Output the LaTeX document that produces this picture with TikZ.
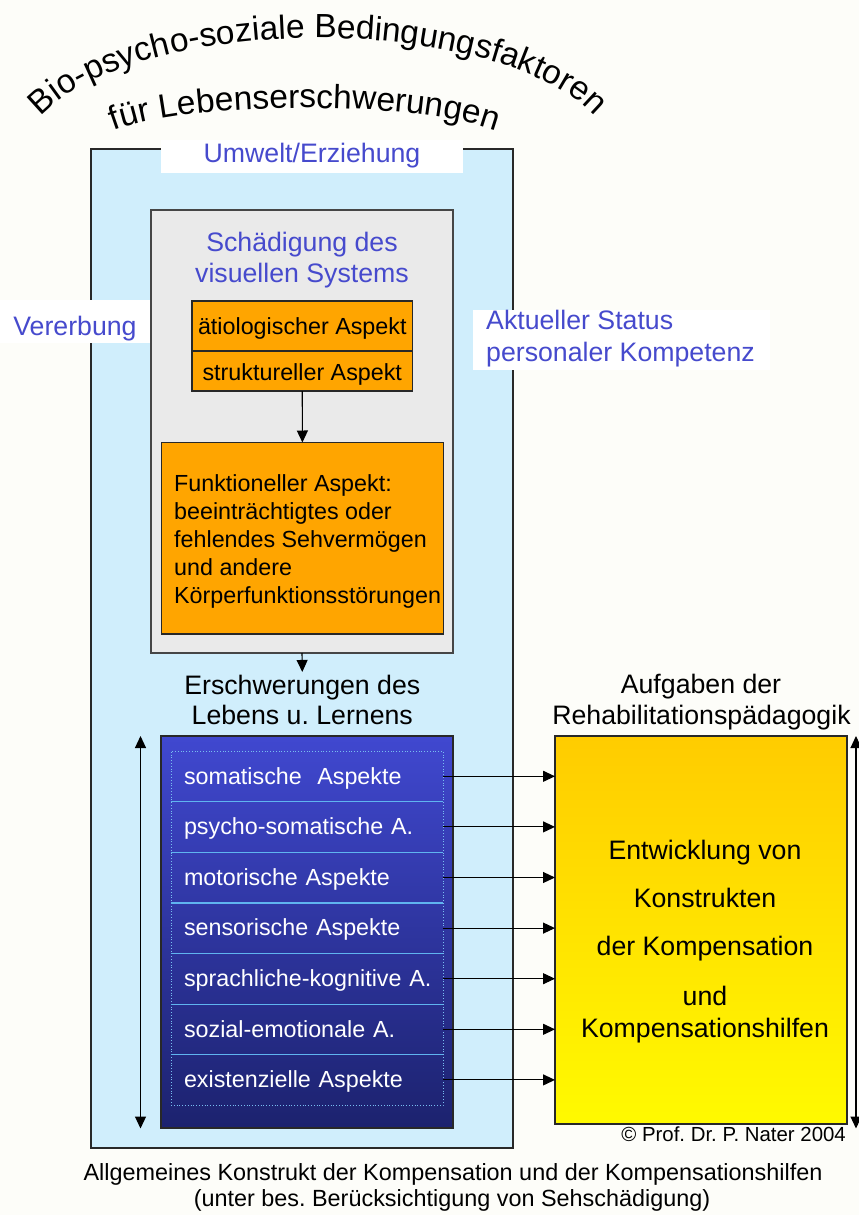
\documentclass[tikz,border=0pt]{standalone}
\usepackage{fontspec}
\setmainfont{Liberation Sans}
\usetikzlibrary{fit,arrows.meta,decorations.text}
\definecolor{bgc}{RGB}{253,253,249}
\definecolor{lblue}{RGB}{208,238,252}
\definecolor{greyc}{RGB}{234,234,234}
\definecolor{orangec}{RGB}{255,165,0}
\definecolor{bluetext}{RGB}{70,74,205}
\definecolor{btop}{RGB}{64,72,208}
\definecolor{bbot}{RGB}{28,34,110}
\definecolor{ytop}{RGB}{255,204,0}
\definecolor{ybot}{RGB}{255,250,0}
\definecolor{sepc}{RGB}{96,180,240}
\definecolor{dotc}{RGB}{120,190,240}
\definecolor{edge}{RGB}{40,40,40}
\newcommand\fsz[2]{\fontsize{#1}{#2}\selectfont}
\begin{document}
\frenchspacing
\begin{tikzpicture}[x=1pt,y=-1pt,
  frame/.style={draw=edge, line width=1.1pt, inner sep=0pt, outer sep=0pt},
  patch/.style={fill=white, inner sep=0pt, outer sep=0pt},
  lbl/.style={inner sep=0pt, font={\fsz{26.7}{32}}},
  bluelbl/.style={lbl, text=bluetext},
  small/.style={inner sep=0pt, font={\fsz{23.3}{28}}},
  arr/.style={draw=black, line width=1.1pt, -{Triangle[length=12pt,width=11pt]}},
  darr/.style={draw=black, line width=1.1pt, {Triangle[length=12pt,width=11pt]}-{Triangle[length=12pt,width=11pt]}},
  row/.style={inner xsep=13pt, inner ysep=0pt, text width=246pt, minimum height=50.6pt, align=left, text=white, font={\fsz{23.3}{28}}, text height=18pt, text depth=2.6pt},
  sepline/.style={draw=sepc, line width=1.2pt},
]
\fill[bgc] (0,0) rectangle (859,1215);
\useasboundingbox (0,0) rectangle (859,1215);

% title
\path[decorate, decoration={text along path, text align=center,
  text={|\fsz{33.5}{33.5}|Bio-psycho-soziale Bedingungsfaktoren}}]
  (318,158) ++(198.5:295 and 120) arc[start angle=198.5, end angle=341.5, x radius=295, y radius=120];
\path[decorate, decoration={text along path, text align=center,
  text={|\fsz{33.5}{33.5}|für Lebenserschwerungen}}]
  (305,150) ++(203:215 and 42) arc[start angle=203, end angle=337, x radius=215, y radius=42];

% outer environment box
\node[frame, fill=lblue, fit={(91,149)(513,1148)}] (outer) {};
\node[patch, fit={(161,140)(463,172.5)}] (umweltpatch) {};
\node[bluelbl, anchor=base] (umwelt) at (312,162) {Umwelt/Erziehung};
\node[patch, fit={(0,300)(150,343)}] (vererbpatch) {};
\node[bluelbl, anchor=base] (vererbung) at (75,335) {Vererbung};
\node[patch, fit={(473,310)(770,370)}] (statuspatch) {};
\node[bluelbl, anchor=base west] (status1) at (486,329.3) {Aktueller Status};
\node[bluelbl, anchor=base west] (status2) at (486,361.7) {personaler Kompetenz};

% visual system box
\node[frame, draw={rgb,255:red,70;green,70;blue,70}, fill=greyc, fit={(151,210)(453,653)}] (grey) {};
\node[bluelbl, anchor=base] (schaed1) at (302,251) {Schädigung des};
\node[bluelbl, anchor=base] (schaed2) at (302,282) {visuellen Systems};
\node[frame, fill=orangec, fit={(192,301)(412.5,351)}] (aetio) {};
\node[small, anchor=base] (aetiot) at (302.3,334.3) {ätiologischer Aspekt};
\node[frame, fill=orangec, fit={(192,351)(412.5,391)}] (strukt) {};
\node[small, anchor=base] (struktt) at (302.3,380) {struktureller Aspekt};
\node[frame, fill=orangec, fit={(161.5,442.5)(443.3,634)}] (funk) {};
\node[small, anchor=base west] (funk1) at (174,491) {Funktioneller Aspekt:};
\node[small, anchor=base west] (funk2) at (174,519.3) {beeinträchtigtes oder};
\node[small, anchor=base west] (funk3) at (174,547.5) {fehlendes Sehvermögen};
\node[small, anchor=base west] (funk4) at (174,575.7) {und andere};
\node[small, anchor=base west] (funk5) at (174,603.5) {Körperfunktionsstörungen};
\draw[arr] (strukt.south) -- (funk.north);

% Erschwerungen
\node[lbl, inner ysep=2.5pt, anchor=base] (ersch1) at (302.3,694) {Erschwerungen des};
\node[lbl, anchor=base] (ersch2) at (302.3,724.3) {Lebens u. Lernens};
\draw[arr] (grey.south) -- (ersch1.north);

\node[frame, top color=btop, bottom color=bbot, fit={(161,736)(453,1128)}] (bluebox) {};
\node[draw=dotc, dotted, line width=0.8pt, inner sep=0pt, fit={(171,751)(443,1105)}] (inner) {};
\node[row] (r1) at (307,776.3) {somatische\ \ Aspekte};
\node[row] (r2) at (307,826.9) {psycho-somatische A.};
\node[row] (r3) at (307,877.5) {motorische Aspekte};
\node[row] (r4) at (307,928.1) {sensorische Aspekte};
\node[row] (r5) at (307,978.7) {\mbox{sprachliche-kognitive A.}};
\node[row] (r6) at (307,1029.3) {sozial-emotionale A.};
\node[row] (r7) at (307,1079.9) {existenzielle Aspekte};
\foreach \r in {r1,r2,r3,r4,r5,r6} \draw[sepline] (\r.south west) -- (\r.south east);

% double arrows
\coordinate (lt) at (140.5,736);
\coordinate (lb) at (140.5,1128.5);
\draw[darr] (lt) -- (lb);
\coordinate (rt) at (856,736);
\coordinate (rb) at (856,1128.5);
\draw[darr] (rt) -- (rb);

% rehabilitation box
\node[lbl, anchor=base] (aufg1) at (701,693) {Aufgaben der};
\node[lbl, anchor=base] (aufg2) at (701.5,724) {Rehabilitationspädagogik};
\node[frame, top color=ytop, bottom color=ybot, fit={(555,736)(847,1124)}] (yellow) {};
\node[lbl, anchor=base] (y1) at (705,859) {Entwicklung von};
\node[lbl, anchor=base] (y2) at (705,907) {Konstrukten};
\node[lbl, anchor=base] (y3) at (705,955) {der Kompensation};
\node[lbl, anchor=base] (y4) at (705,1005) {und};
\node[lbl, anchor=base] (y5) at (705,1037) {Kompensationshilfen};

\foreach \r in {r1,r2,r3,r4,r5,r6,r7} \draw[arr] (\r.east) -- (\r.east -| yellow.west);

% footer
\node[inner sep=0pt, font={\fsz{20.4}{24}}, anchor=base east] (copy) at (846,1141.7) {© Prof. Dr. P. Nater 2004};
\node[inner sep=0pt, font={\fsz{23.4}{28}}, anchor=base] (cap1) at (453,1180) {Allgemeines Konstrukt der Kompensation und der Kompensationshilfen};
\node[inner sep=0pt, font={\fsz{23.4}{28}}, anchor=base] (cap2) at (452,1206.7) {(unter bes. Berücksichtigung von Sehschädigung)};
\end{tikzpicture}
\end{document}
